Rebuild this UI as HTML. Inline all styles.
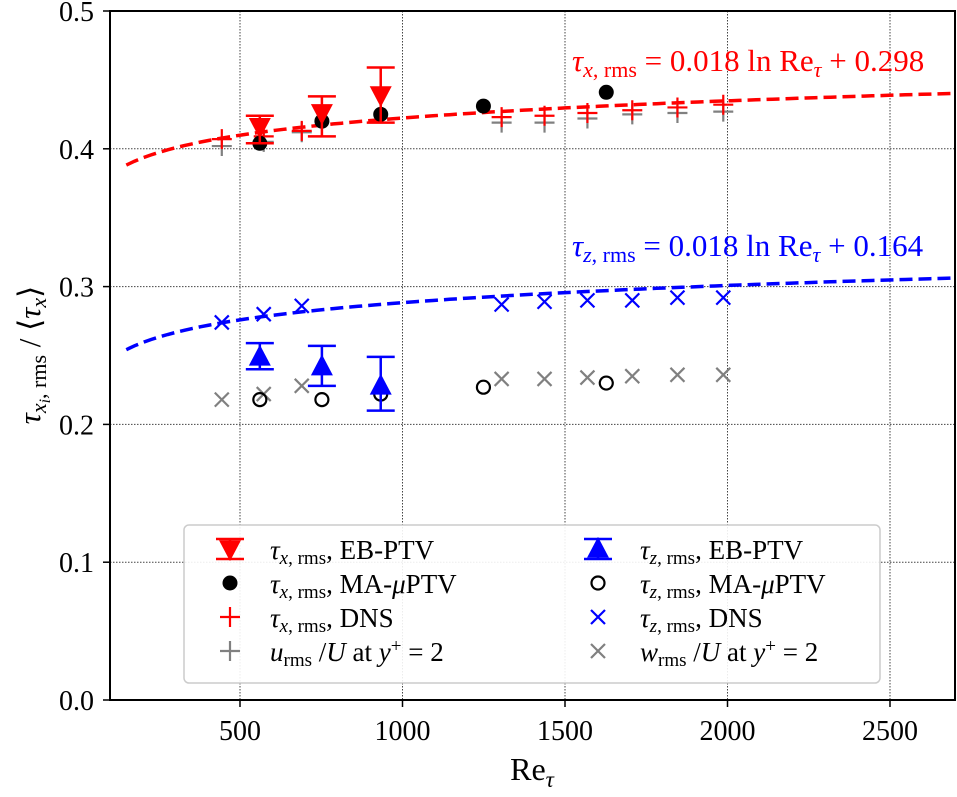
<!DOCTYPE html>
<html><head><meta charset="utf-8"><style>
body{margin:0;background:#fff}
svg, svg text, svg tspan{font-family:"Liberation Serif","Times New Roman",Times,serif}
</style></head><body>
<svg id="chart" width="957" height="792" viewBox="0 0 957 792" xmlns="http://www.w3.org/2000/svg">
<g id="grid"></g>
<g id="fits"></g>
<g id="marks"></g>
<rect x="110" y="11" width="845" height="689" fill="none" stroke="#000" stroke-width="2"/>
<g id="ticks" font-size="28"></g>
<text x="572" y="71" fill="#f00" font-size="31"><tspan font-style="italic">τ</tspan><tspan font-style="italic" font-size="22" dy="6">x</tspan><tspan font-size="22">, rms</tspan><tspan dy="-6"> = 0.018 ln Re</tspan><tspan font-style="italic" font-size="22" dy="6">τ</tspan><tspan dy="-6"> + 0.298</tspan></text>
<text x="572" y="256" fill="#00f" font-size="31"><tspan font-style="italic">τ</tspan><tspan font-style="italic" font-size="22" dy="6">z</tspan><tspan font-size="22">, rms</tspan><tspan dy="-6"> = 0.018 ln Re</tspan><tspan font-style="italic" font-size="22" dy="6">τ</tspan><tspan dy="-6"> + 0.164</tspan></text>
<text x="532" y="780" font-size="32" text-anchor="middle">Re<tspan font-style="italic" font-size="23" dy="7">τ</tspan></text>
<text transform="translate(40,355) rotate(-90)" font-size="31" text-anchor="middle"><tspan font-style="italic">τ</tspan><tspan font-style="italic" font-size="22" dy="6">x</tspan><tspan font-style="italic" font-size="16" dy="4">i</tspan><tspan font-size="22" dy="-4">, rms</tspan><tspan dy="-6"> / ⟨</tspan><tspan font-style="italic">τ</tspan><tspan font-style="italic" font-size="22" dy="6">x</tspan><tspan dy="-6">⟩</tspan></text>
<g id="legend">
<rect x="184" y="525" width="696" height="158" rx="5" fill="#fff" fill-opacity="0.9" stroke="#ccc" stroke-width="1.5"/>
</g>
</svg>
<script>
const NS="http://www.w3.org/2000/svg";
const xTicks=[500,1000,1500,2000,2500];
const yTicks=[0.0,0.1,0.2,0.3,0.4,0.5];
const ebRe=[561,752,933];
const ebTx=[0.416,0.426,0.439];
const ebTxLo=[0.404,0.409,0.419];
const ebTxHi=[0.424,0.438,0.459];
const ebTz=[0.249,0.242,0.228];
const ebTzLo=[0.240,0.228,0.210];
const ebTzHi=[0.259,0.257,0.249];
const maRe=[561,752,933,1249,1627];
const maTx=[0.404,0.420,0.425,0.431,0.441];
const maTz=[0.218,0.218,0.222,0.227,0.230];
const dnsRe=[444,573,690,1305,1437,1569,1707,1846,1987];
const dnsTx=[0.407,0.409,0.413,0.423,0.424,0.426,0.428,0.430,0.432];
const dnsTz=[0.274,0.280,0.286,0.287,0.289,0.290,0.290,0.292,0.292];
const uRms=[0.402,0.405,0.412,0.419,0.419,0.422,0.425,0.426,0.427];
const wRms=[0.218,0.222,0.228,0.233,0.233,0.234,0.235,0.236,0.236];
const fitA=0.018, fitBx=0.298, fitBz=0.164, fitRange=[150,2700];

const X=v=>110+(v-100)*845/2600;
const Y=v=>700-v*1378;
function el(tag,attrs,parent){const e=document.createElementNS(NS,tag);for(const k in attrs)e.setAttribute(k,attrs[k]);parent.appendChild(e);return e;}
const grid=document.getElementById('grid'),ticks=document.getElementById('ticks'),fits=document.getElementById('fits'),marks=document.getElementById('marks'),legend=document.getElementById('legend');
xTicks.forEach(t=>{
  const g=el('line',{x1:X(t),x2:X(t),y1:11,y2:700,stroke:'#444','stroke-width':1,'stroke-dasharray':'1.5,1.5'},grid);
  
  
  const tk=el('line',{x1:X(t),x2:X(t),y1:700,y2:707,stroke:'#000','stroke-width':1.5},ticks);
  
  
  const tx=el('text',{x:X(t),y:740,'text-anchor':'middle'},ticks);tx.textContent=t;
  
  
});
yTicks.forEach(t=>{
  const g=el('line',{x1:110,x2:955,y1:Y(t),y2:Y(t),stroke:'#444','stroke-width':1,'stroke-dasharray':'1.5,1.5'},grid);
  
  
  const tk=el('line',{x1:103,x2:110,y1:Y(t),y2:Y(t),stroke:'#000','stroke-width':1.5},ticks);
  
  
  const tx=el('text',{x:94,y:Y(t)+10,'text-anchor':'end'},ticks);tx.textContent=t.toFixed(1);
  
  
});
function fitPath(b,color,name){
  let d='';for(let i=0;i<=100;i++){const r=fitRange[0]+(fitRange[1]-fitRange[0])*i/100;d+=(i?'L':'M')+X(r).toFixed(1)+','+Y(fitA*Math.log(r)+b).toFixed(1);}
  const p=el('path',{d:d,fill:'none',stroke:color,'stroke-width':3.5,'stroke-dasharray':'13,6'},fits);
  
  
}
fitPath(fitBx,'#f00','fit-line-x');fitPath(fitBz,'#00f','fit-line-z');

function plus(g,x,y,c,s){el('path',{d:`M${x-s},${y}H${x+s}M${x},${y-s}V${y+s}`,stroke:c,'stroke-width':2.2},g);}
function cross(g,x,y,c,s){el('path',{d:`M${x-s},${y-s}L${x+s},${y+s}M${x-s},${y+s}L${x+s},${y-s}`,stroke:c,'stroke-width':2.2},g);}
function errbar(g,x,yc,lo,hi,c,down){
  el('path',{d:`M${x},${lo}V${hi}M${x-14},${lo}H${x+14}M${x-14},${hi}H${x+14}`,stroke:c,'stroke-width':2.5},g);
  const s=11;
  const d=down?`M${x-s},${yc-s*0.8}L${x+s},${yc-s*0.8}L${x},${yc+s*1.1}Z`:`M${x-s},${yc+s*0.8}L${x+s},${yc+s*0.8}L${x},${yc-s*1.1}Z`;
  el('path',{d:d,fill:c},g);
}
function group(name){const g=el('g',{},marks);return g;}
let g=group('series-u-rms');dnsRe.forEach((r,i)=>plus(g,X(r),Y(uRms[i]),'#808080',10));
g=group('series-w-rms');dnsRe.forEach((r,i)=>cross(g,X(r),Y(wRms[i]),'#808080',7));
g=group('series-tau-x-dns');dnsRe.forEach((r,i)=>plus(g,X(r),Y(dnsTx[i]),'#f00',10));
g=group('series-tau-z-dns');dnsRe.forEach((r,i)=>cross(g,X(r),Y(dnsTz[i]),'#00f',7));
g=group('series-tau-x-ma');maRe.forEach((r,i)=>el('circle',{cx:X(r),cy:Y(maTx[i]),r:7.5,fill:'#000'},g));
g=group('series-tau-z-ma');maRe.forEach((r,i)=>el('circle',{cx:X(r),cy:Y(maTz[i]),r:6.5,fill:'none',stroke:'#000','stroke-width':2.2},g));
g=group('series-tau-x-eb');ebRe.forEach((r,i)=>errbar(g,X(r),Y(ebTx[i]),Y(ebTxLo[i]),Y(ebTxHi[i]),'#f00',true));
g=group('series-tau-z-eb');ebRe.forEach((r,i)=>errbar(g,X(r),Y(ebTz[i]),Y(ebTzLo[i]),Y(ebTzHi[i]),'#00f',false));

const legRows=[
 ['eb','#f00','x','EB-PTV'],['ma','#000','x','MA-μPTV'],['plus','#f00','x','DNS'],['gplus','#808080','u',''],
 ['ebz','#00f','z','EB-PTV'],['oc','#000','z','MA-μPTV'],['cross','#00f','z','DNS'],['gcross','#808080','w','']];
legRows.forEach((row,i)=>{
  const col=i<4?0:1, r=i%4;
  const mx=col?598:230, tx=col?640:270, y=549+r*34;
  const lg=el('g',{},legend);
  
  
  const k=row[0];
  if(k=='eb')errbar(lg,mx,y,y+10,y-10,'#f00',true);
  if(k=='ebz')errbar(lg,mx,y,y+10,y-10,'#00f',false);
  if(k=='ma')el('circle',{cx:mx,cy:y,r:7.5,fill:'#000'},lg);
  if(k=='oc')el('circle',{cx:mx,cy:y,r:6.5,fill:'none',stroke:'#000','stroke-width':2.2},lg);
  if(k=='plus')plus(lg,mx,y,'#f00',10);
  if(k=='gplus')plus(lg,mx,y,'#808080',10);
  if(k=='cross')cross(lg,mx,y,'#00f',7);
  if(k=='gcross')cross(lg,mx,y,'#808080',7);
  const t=el('text',{x:tx,y:y+10,'font-size':27},lg);
  if(row[3]){
    t.innerHTML=`<tspan font-style="italic">τ</tspan><tspan font-style="italic" font-size="19" dy="5">${row[2]}</tspan><tspan font-size="19">, rms</tspan><tspan dy="-5">, ${row[3].replace('μ','<tspan font-style="italic">μ</tspan>')}</tspan>`;
  }else{
    t.innerHTML=`<tspan font-style="italic">${row[2]}</tspan><tspan font-size="19" dy="5">rms</tspan><tspan dy="-5"> /</tspan><tspan font-style="italic">U</tspan> at <tspan font-style="italic">y</tspan><tspan font-size="19" dy="-9">+</tspan><tspan dy="9"> = 2</tspan>`;
  }
});
</script>
</body></html>
